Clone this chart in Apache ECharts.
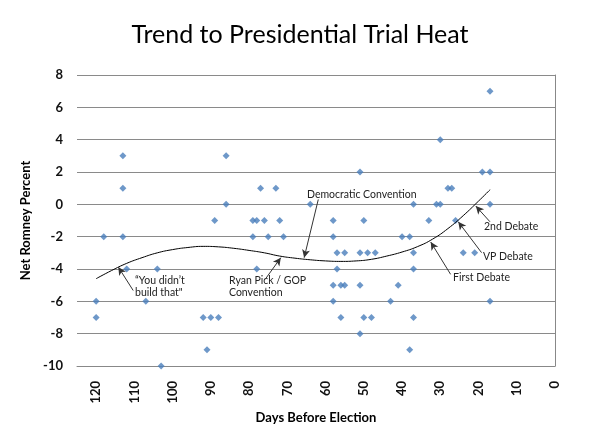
<!DOCTYPE html>
<html><head><meta charset="utf-8">
<script src="https://cdn.jsdelivr.net/npm/echarts@6/dist/echarts.min.js"></script>
<style>html,body{margin:0;padding:0;background:#fff}#c{width:600px;height:442px}</style>
</head><body><div id="c"></div>
<script>
// Poll observations: days before election and net Romney percent
const pollDays = [120,120,118,113,113,113,112,107,104,103,92,91,90,89,88,86,86,
  79,79,78,78,77,76,75,73,72,71,64,58,58,58,58,57,57,56,56,55,55,
  51,51,51,51,50,50,49,48,47,43,41,40,38,38,37,37,37,37,33,31,30,30,28,27,26,24,21,19,17,17,17,17];
const pollValues = [-6,-7,-2,3,1,-2,-4,-6,-4,-10,-7,-9,-7,-1,-7,3,0,
  -1,-2,-1,-4,1,-1,-2,1,-1,-2,0,-1,-2,-5,-6,-3,-4,-5,-7,-3,-5,
  2,-3,-5,-8,-1,-7,-3,-7,-3,-6,-5,-2,-2,-9,0,-3,-4,-7,-1,0,4,0,1,1,-1,-3,-3,2,7,2,0,-6];
// Trend curve
const trendDays = [120,116,112,108,104,100,96,92,88,84,80,76,72,68,64,60,56,52,48,44,40,36,32,28,24,20,17];
const trendValues = [-4.6,-4.1,-3.65,-3.3,-3.0,-2.8,-2.67,-2.6,-2.63,-2.72,-2.85,-3.0,-3.2,-3.33,-3.43,-3.5,-3.53,-3.5,-3.4,-3.2,-2.95,-2.62,-2.15,-1.5,-0.7,0.2,0.9];
// Annotation arrows
const arrowNames = ['Democratic Convention','Ryan Pick / GOP Convention','You didn\u2019t build that','First Debate','VP Debate','2nd Debate'];
const arrowFrom = [[61.9,0.3],[75.8,-4.64],[110.3,-5.33],[27.3,-4.33],[19.2,-2.99],[17.0,-1.08]];
const arrowTo = [[65.6,-3.3],[71.7,-3.3],[114.2,-3.88],[32.5,-2.33],[25.3,-1.08],[20.7,-0.11]];
const xTicks = {min:0, max:125, interval:10};
const yTicks = {min:-10, max:8, interval:2};

const FONT = 'Lato';
const chart = echarts.init(document.getElementById('c'), null, {renderer:'canvas'});
const scatterData = pollDays.map((d,i)=>[d,pollValues[i]]);
const trendData = trendDays.map((d,i)=>[d,trendValues[i]]);
const markLines = arrowFrom.map((f,i)=>[{coord:f, name:arrowNames[i]},{coord:arrowTo[i]}]);

const ann = (txt,x,y)=>({type:'text', left:x, top:y, style:{text:txt, font:'10.5px '+FONT, fill:'#222', lineHeight:12}});

chart.setOption({
  animation:false,
  title:{text:'Trend to Presidential Trial Heat', left:'center', top:17,
    textStyle:{fontFamily:FONT, fontSize:25, fontWeight:'normal', color:'#000'}},
  grid:{left:77, right:45, top:75, bottom:76},
  xAxis:{type:'value', min:xTicks.min, max:xTicks.max, interval:xTicks.interval, inverse:true,
    name:'Days Before Election', nameLocation:'middle', nameGap:43,
    nameTextStyle:{fontFamily:FONT, fontSize:13, fontWeight:'bold', color:'#000'},
    axisLine:{show:true, onZero:false, lineStyle:{color:'#888', width:1}},
    axisTick:{show:false}, splitLine:{show:false},
    axisLabel:{rotate:90, margin:15, showMaxLabel:false, fontFamily:FONT, fontSize:13, fontWeight:'bold', color:'#111'}},
  yAxis:{type:'value', min:yTicks.min, max:yTicks.max, interval:yTicks.interval,
    name:'Net Romney Percent', nameLocation:'middle', nameGap:42,
    nameTextStyle:{fontFamily:FONT, fontSize:13, fontWeight:'bold', color:'#000'},
    axisLine:{show:true, lineStyle:{color:'#888', width:1}},
    axisTick:{show:false},
    splitLine:{show:true, lineStyle:{color:'#8a8a8a', width:1}},
    axisLabel:{margin:14, fontFamily:FONT, fontSize:13, fontWeight:'bold', color:'#111'}},
  series:[
    {type:'scatter', data:scatterData, symbol:'diamond', symbolSize:7,
      itemStyle:{color:'#4A7EBB'}, z:3},
    {type:'line', data:trendData, smooth:0.5, showSymbol:false, symbol:'none',
      lineStyle:{color:'#000', width:1}, z:4,
      markLine:{silent:true, symbol:['none','arrow'], symbolSize:[6,8], animation:false,
        lineStyle:{color:'#333', width:1, type:'solid'}, label:{show:false}, data:markLines}}
  ],
  graphic:[
    ann('Democratic Convention',307,189),
    ann('Ryan Pick / GOP\nConvention',229,275),
    ann('\u201cYou didn\u2019t\nbuild that"',135,275),
    ann('First Debate',453,272),
    ann('VP Debate',483,251),
    ann('2nd Debate',484,221)
  ]
});
</script></body></html>
